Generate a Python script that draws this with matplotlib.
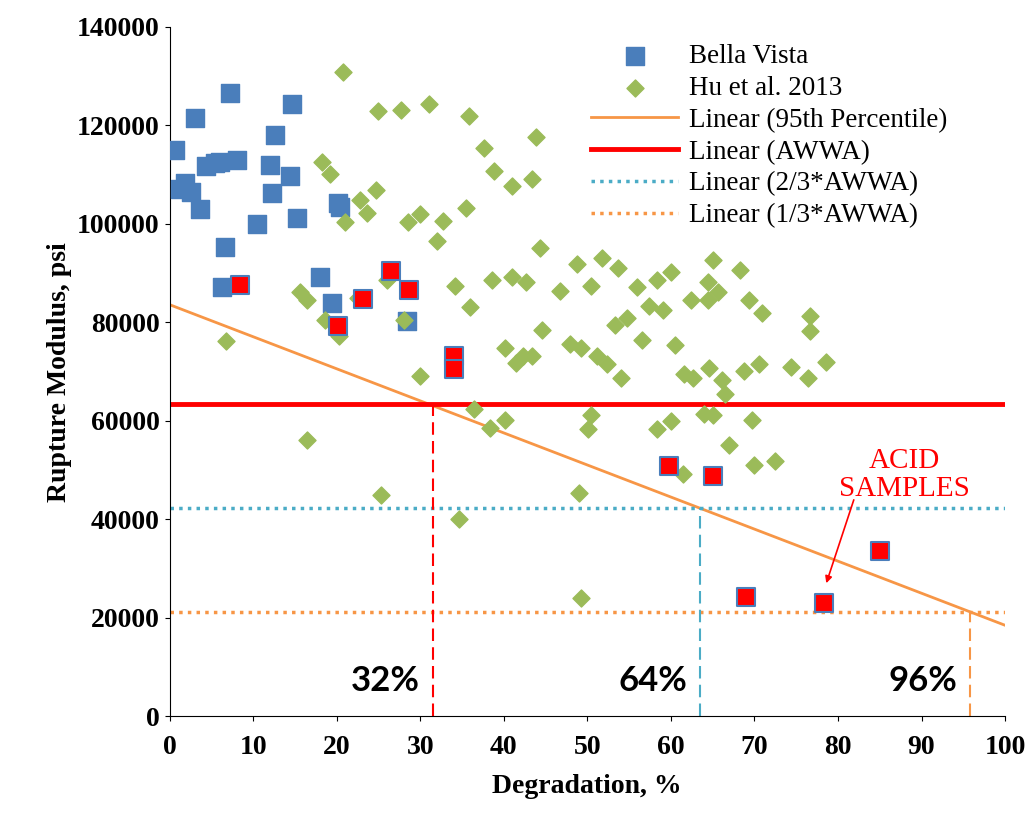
import numpy as np
import matplotlib.pyplot as plt

# Bella Vista samples
bv_x = [0.6, 1.2, 1.8, 2.6, 3.1, 3.6, 4.4, 5.4, 6.0, 6.6, 6.3, 7.2, 8.1, 10.5, 12.0, 12.6, 12.2,
        14.4, 14.6, 15.2, 18.0, 19.5, 20.4, 20.2, 28.4]
bv_y = [115000, 107000, 108300, 106500, 121500, 103000, 111800, 112400, 112600, 95300, 87200,
        126600, 113000, 100000, 112000, 118100, 106300, 109800, 124400, 101200, 89200, 83900,
        103500, 104300, 80300]

# acid samples (Bella Vista, red fill)
acid_x = [8.4, 20.2, 23.1, 26.5, 28.7, 34.0, 34.1, 59.8, 65.1, 69.0, 78.3, 85.0]
acid_y = [87600, 79300, 84800, 90400, 86600, 73200, 70500, 50800, 48800, 24200, 23000, 33500]

# Hu et al. 2013
hu_x = [20.7, 25.0, 27.7, 31.1, 35.8, 18.2, 19.2, 24.7, 22.8, 23.6, 21.0, 28.5, 30.0, 32.7, 32.0,
        35.5, 37.6, 38.8, 41.0, 43.4, 43.9, 44.3, 15.6, 16.5, 18.6, 20.3, 22.5, 26.0, 28.0, 6.8,
        16.5, 25.3, 30.0, 34.2, 35.9, 38.6, 41.0, 42.7, 40.1, 41.5, 42.3, 43.4, 44.6, 36.4, 38.4,
        40.1, 34.7, 46.7, 47.9, 48.8, 49.2, 50.5, 51.2, 52.3, 51.8, 53.3, 53.7, 54.0, 54.8, 56.0,
        56.5, 57.4, 58.4, 59.0, 60.0, 60.5, 62.4, 64.5, 65.1, 64.5, 65.7, 61.6, 62.6, 64.6, 66.1,
        66.5, 68.3, 69.3, 70.9, 68.7, 70.6, 74.4, 76.7, 76.7, 76.4, 78.6, 50.5, 50.1, 58.3, 60.0,
        64.0, 65.1, 61.4, 67.0, 69.7, 70.0, 72.5, 49.0, 49.3]
hu_y = [130900, 123000, 123200, 124400, 122000, 112600, 110200, 106900, 104900, 102200, 100400,
        100400, 102000, 100600, 96500, 103300, 115400, 110800, 107700, 109100, 117700, 95100,
        86200, 84600, 80500, 77200, 85000, 88600, 80500, 76200, 56100, 44900, 69100, 87400, 83100,
        88600, 89200, 88200, 74800, 71700, 73200, 73200, 78500, 62400, 58500, 60200, 40000, 86400,
        75600, 91900, 74800, 87400, 73200, 71500, 93100, 79500, 91100, 68700, 80900, 87200, 76400,
        83300, 88600, 82500, 90200, 75400, 84600, 88200, 92700, 84600, 86200, 69500, 68700, 70700,
        68300, 65400, 90700, 84600, 81900, 70100, 71500, 70900, 81300, 78300, 68700, 72000, 61200,
        58300, 58300, 60000, 61400, 61200, 49200, 55100, 60200, 51000, 51800, 45300, 24000]

p95_ends = [83600, 18500]  # linear fit at x=0 and x=100
awwa = 63400
awwa_23 = 42300
awwa_13 = 21100
cross_x = [31.5, 63.5, 95.8]
cross_lbl = ["32%", "64%", "96%"]

plt.rcParams['font.family'] = ['Liberation Serif']
fig = plt.figure(figsize=(10.34, 8.15), dpi=100)
ax = fig.add_axes([0.164, 0.121, 0.808, 0.846])

ax.scatter(bv_x, bv_y, marker='s', s=150, color='#4a7ebb', zorder=3, label='Bella Vista')
ax.scatter(hu_x, hu_y, marker='D', s=75, color='#9bbb59', zorder=3, label='Hu et al. 2013')
ax.scatter(acid_x, acid_y, marker='s', s=150, color='#ff0000', edgecolor='#4a7ebb', linewidth=1.5, zorder=4)

xs = np.array([0, 100])
ax.plot(xs, p95_ends, color='#f79646', lw=2, label='Linear (95th Percentile)')
ax.plot(xs, [awwa, awwa], color='#ff0000', lw=3.5, label='Linear (AWWA)')
ax.plot(xs, [awwa_23, awwa_23], color='#4bacc6', lw=2.5, ls=(0, (1, 1.5)), label='Linear (2/3*AWWA)')
ax.plot(xs, [awwa_13, awwa_13], color='#f79646', lw=2.5, ls=(0, (1, 1.5)), label='Linear (1/3*AWWA)')

for xv, yv, c in zip(cross_x, [awwa, awwa_23, awwa_13], ['#ff0000', '#4bacc6', '#f79646']):
    ax.plot([xv, xv], [0, yv], color=c, lw=1.5, ls=(0, (6, 3)))
for xv, t in zip(cross_x, cross_lbl):
    ax.text(xv - 1.5, 4000, t, ha='right', va='bottom', fontsize=25, fontweight='bold', family='Lato')

ax.text(88, 43500, 'ACID\nSAMPLES', color='#ff0000', ha='center', va='bottom', fontsize=21, linespacing=1.1)
ax.annotate('', xy=(78.5, 26500), xytext=(82, 44500),
            arrowprops=dict(arrowstyle='-|>', color='#ff0000', lw=1.2))

ax.set_xlim(0, 100)
ax.set_ylim(0, 140000)
ax.set_xticks(range(0, 101, 10))
ax.set_yticks(range(0, 140001, 20000))
ax.spines['top'].set_visible(False)
ax.spines['right'].set_visible(False)
ax.tick_params(labelsize=20, direction='out')
ax.tick_params(axis='x', pad=10)
for lab in ax.get_xticklabels() + ax.get_yticklabels():
    lab.set_fontweight('bold')
ax.set_xlabel('Degradation, %', fontsize=20, fontweight='bold', labelpad=10)
ax.set_ylabel('Rupture Modulus, psi', fontsize=20, fontweight='bold')

ax.legend(loc='upper right', bbox_to_anchor=(0.96, 1.01), fontsize=19.5, frameon=False,
          handlelength=3.2, labelspacing=0.25, handletextpad=0.4)

fig.savefig('out.png')
